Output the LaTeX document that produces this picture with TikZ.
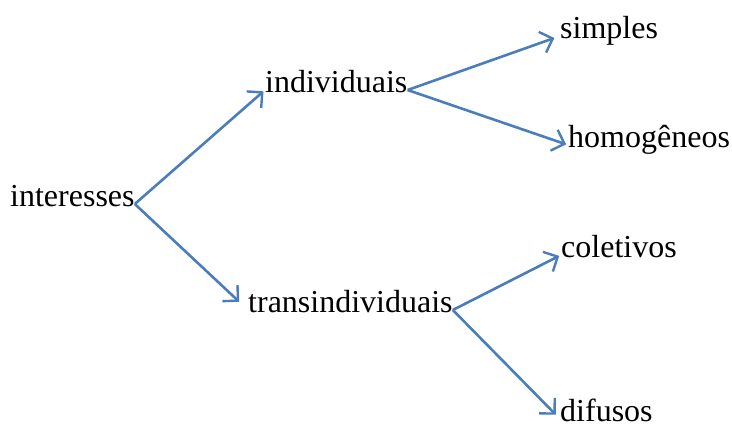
\documentclass[tikz,border=0pt]{standalone}
\usepackage{fontspec}
\setmainfont{Liberation Serif}
\usetikzlibrary{arrows.meta}
\definecolor{linkblue}{RGB}{74,126,187}
\begin{document}
\begin{tikzpicture}[x=1bp,y=-1bp,
    word/.style={anchor=west,inner sep=0pt,text height=0.74em,text depth=0.22em,font=\fontsize{32bp}{38bp}\selectfont},
    link/.style={draw=linkblue,line width=2.6bp,-{Straight Barb[length=11bp,width=22bp,line width=2.4bp]},shorten >=2bp}]
  \useasboundingbox (0,0) rectangle (732,428);
  \node[word] (interesses) at (10,204) {interesses};
  \node[word] (individuais) at (265,90) {individuais};
  \node[word] (transindividuais) at (248,310) {transindividuais};
  \node[word] (simples) at (560,36) {simples};
  \node[word] (homogeneos) at (568,145) {homogêneos};
  \node[word] (coletivos) at (561,255) {coletivos};
  \node[word] (difusos) at (560,419) {difusos};
  \draw[link] (interesses.east) -- (individuais.west);
  \draw[link,shorten >=12bp] (interesses.east) -- (transindividuais.west);
  \draw[link,shorten >=6bp] (individuais.east) -- (simples.west);
  \draw[link] (individuais.east) -- (homogeneos.west);
  \draw[link] (transindividuais.east) -- (coletivos.west);
  \draw[link,shorten >=6bp] (transindividuais.east) -- (difusos.west);
\end{tikzpicture}
\end{document}
